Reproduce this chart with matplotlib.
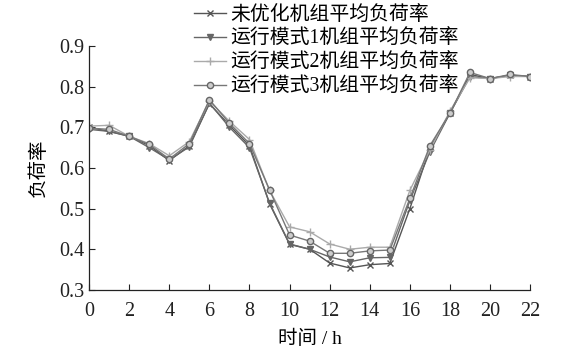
import matplotlib
matplotlib.use("Agg")
import matplotlib.pyplot as plt

plt.rcParams['font.family'] = ['Liberation Serif', 'Noto Sans CJK SC']
plt.rcParams['axes.unicode_minus'] = False

hours = list(range(23))
s_unopt = [0.700, 0.690, 0.678, 0.655, 0.618, 0.655, 0.758, 0.705, 0.655, 0.512, 0.412, 0.400, 0.366, 0.354, 0.362, 0.365, 0.500, 0.650, 0.735, 0.830, 0.820, 0.828, 0.825]
s_mode1 = [0.695, 0.690, 0.678, 0.650, 0.620, 0.652, 0.760, 0.700, 0.650, 0.514, 0.413, 0.400, 0.381, 0.369, 0.379, 0.380, 0.520, 0.640, 0.735, 0.825, 0.820, 0.828, 0.825]
s_mode2 = [0.703, 0.705, 0.678, 0.660, 0.630, 0.665, 0.765, 0.715, 0.670, 0.545, 0.455, 0.443, 0.413, 0.400, 0.405, 0.405, 0.545, 0.645, 0.740, 0.822, 0.820, 0.825, 0.825]
s_mode3 = [0.698, 0.695, 0.678, 0.658, 0.622, 0.660, 0.768, 0.710, 0.660, 0.546, 0.435, 0.420, 0.390, 0.390, 0.396, 0.398, 0.525, 0.655, 0.735, 0.835, 0.820, 0.830, 0.825]
labels = ['未优化机组平均负荷率', '运行模式1机组平均负荷率', '运行模式2机组平均负荷率', '运行模式3机组平均负荷率']
xticks = list(range(0, 23, 2))
yticks = [0.3, 0.4, 0.5, 0.6, 0.7, 0.8, 0.9]

fig = plt.figure(figsize=(5.64, 3.57), dpi=100)
ax = fig.add_axes([0.158, 0.188, 0.782, 0.683])

ax.plot(hours, s_unopt, color='#555555', lw=1.0, marker='x', ms=4, mew=1.0, label=labels[0])
ax.plot(hours, s_mode1, color='#666666', lw=1.0, marker='v', ms=5, label=labels[1])
ax.plot(hours, s_mode2, color='#aaaaaa', lw=1.0, marker='+', ms=6, mew=1.0, label=labels[2])
ax.plot(hours, s_mode3, color='#777777', lw=1.0, marker='o', ms=4.5, mfc='#cccccc', mec='#666666', label=labels[3])

ax.set_xlim(0, 22)
ax.set_ylim(0.3, 0.9)
ax.set_xticks(xticks)
ax.set_yticks(yticks)
ax.set_yticklabels([f'{v:.1f}' for v in yticks])
ax.tick_params(direction='in', labelsize=14.5, length=4, width=0.8, colors='#222222')
ax.tick_params(axis='x', pad=9)
for s in ['top', 'right']:
    ax.spines[s].set_visible(False)
for s in ['left', 'bottom']:
    ax.spines[s].set_color('#222222')
    ax.spines[s].set_linewidth(0.9)

ax.set_xlabel('时间 / h', fontsize=14, labelpad=6)
ax.set_ylabel('负荷率', fontsize=14, labelpad=8)

leg = fig.legend(loc='upper left', bbox_to_anchor=(0.344, 0.983), frameon=False, fontsize=14.3,
                 handlelength=1.6, handletextpad=0.25, labelspacing=0.24, borderaxespad=0,
                 borderpad=0)

fig.savefig('out.png', dpi=100, facecolor='white')
